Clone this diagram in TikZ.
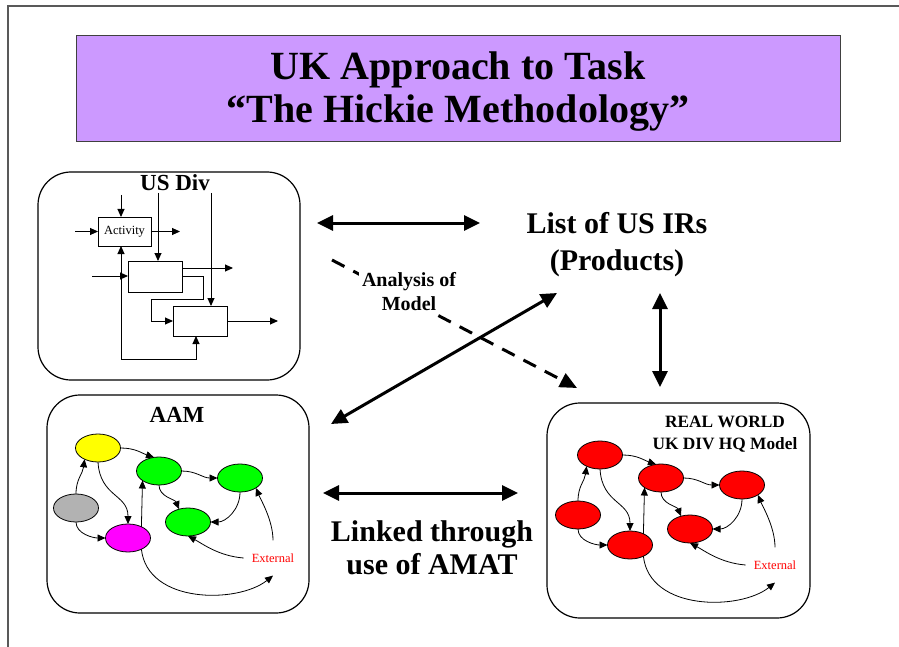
\documentclass[tikz,border=0pt]{standalone}
\usepackage{fontspec}
\setmainfont{Liberation Serif}
\usetikzlibrary{arrows.meta,shapes.geometric}

\definecolor{titlefill}{HTML}{CC99FF}
\definecolor{nodegray}{HTML}{B2B2B2}
\definecolor{nodeyellow}{HTML}{FFFF00}
\definecolor{nodegreen}{HTML}{00FF00}
\definecolor{nodemagenta}{HTML}{FF00FF}
\definecolor{nodered}{HTML}{FF0000}

\tikzset{
  frameline/.style={draw=black!65, line width=1.5pt},
  titlebox/.style={draw=black!75, fill=titlefill, line width=1pt, inner sep=0pt, outer sep=0pt},
  titletext/.style={font=\bfseries\fontsize{40}{43}\selectfont, inner sep=0pt, anchor=base},
  panel/.style={draw=black, line width=1.2pt, rounded corners=33pt, inner sep=0pt, outer sep=0pt},
  fbox/.style={draw=black, line width=0.9pt, inner sep=0pt, outer sep=0pt, font=\fontsize{12.5}{14}\selectfont},
  flow/.style={draw=black, line width=0.9pt, -{Triangle[length=8pt,width=7pt]}},
  bubble/.style={ellipse, draw=black, line width=0.8pt, minimum width=45pt, minimum height=28pt, inner sep=0pt, outer sep=0pt},
  link/.style={draw=black, line width=0.8pt, -{Triangle[length=8pt,width=7pt]}},
  exttext/.style={text=nodered, font=\fontsize{12.5}{14}\selectfont, inner xsep=8pt, inner ysep=13pt},
  bigarrow/.style={draw=black, line width=3pt, {Triangle[length=16pt,width=15pt]}-{Triangle[length=16pt,width=15pt]}},
  dasharrow/.style={draw=black, line width=3pt, dash pattern=on 14pt off 10pt, -{Triangle[length=17pt,width=15pt]}},
  headtext/.style={font=\bfseries\fontsize{23}{27}\selectfont, inner sep=0pt},
  bigtext/.style={font=\bfseries\fontsize{30}{35}\selectfont, align=center, inner sep=0pt},
}

% A small process network: six ellipses, an external source and the links between them
\newcommand\netmodel[8]{%
  \begin{scope}[shift={#2}]
    \node[bubble, fill=#3] (#1t) at (0,0) {};
    \node[bubble, fill=#4] (#1m) at (61,23) {};
    \node[bubble, fill=#5] (#1r) at (142,30) {};
    \node[bubble, fill=#6] (#1l) at (90,74) {};
    \node[bubble, fill=#7] (#1w) at (-22,60) {};
    \node[bubble, fill=#8] (#1b) at (30,90) {};
    \node[exttext] (#1x) at (175,110) {External};
    \draw[link] (#1t.east) .. controls +(15,0) and +(-12,-4) .. (#1m.110);
    \draw[link] (#1m.east) .. controls +(15,0) and +(-15,0) .. (#1r.west);
    \draw[link] (#1m.south) .. controls +(0,12) and +(-4,-10) .. (#1l.125);
    \draw[link] (#1r.south) .. controls +(0,18) and +(15,0) .. (#1l.east);
    \draw[link] (#1t.south) .. controls +(2,35) and +(0,-30) .. (#1b.north);
    \draw[link] (#1w.north) .. controls +(0,-15) and +(-2,15) .. (#1t.220);
    \draw[link] (#1w.south) .. controls +(0,12) and +(-12,0) .. (#1b.west);
    \draw[link] (#1b.40) -- (#1m.210);
    \draw[link] (#1x.west) .. controls +(-25,-2) and +(15,8) .. (#1l.south);
    \draw[link] (#1x.north) .. controls +(0,-20) and +(5,12) .. (#1r.-32);
    \draw[link] (#1b.-40) .. controls +(6,55) and +(-35,28) .. (#1x.south);
  \end{scope}}

\begin{document}
\begin{tikzpicture}[x=1pt, y=-1pt]
  \useasboundingbox (0,0) rectangle (899,647);

  % page frame
  \coordinate (fl) at (8,647);
  \coordinate (fc) at (8,6);
  \coordinate (fr) at (899,6);
  \draw[frameline] (fl) -- (fc) -- (fr);

  % title
  \node[titlebox, minimum width=764pt, minimum height=106pt] (title) at (458,89) {};
  \node[titletext] (titleone) at (458,80) {UK Approach to Task};
  \node[titletext] (titletwo) at (458,123) {“The Hickie Methodology”};

  % ---------- US Div panel ----------
  \node[panel, minimum width=262pt, minimum height=208pt] (usdiv) at (169,276) {};
  \node[headtext] (usdivlabel) at (175,183) {US Div};

  \node[fbox, minimum width=53pt, minimum height=29pt] (act) at (124.5,231.5) {Activity};
  \node[fbox, minimum width=54pt, minimum height=31pt] (bx2) at (155,276.5) {};
  \node[fbox, minimum width=54pt, minimum height=30pt] (bx3) at (200,321) {};

  \coordinate (ain) at (121,195);
  \coordinate (aleft) at (75,231.5);
  \coordinate (aout) at (180,231.5);
  \coordinate (ctl2) at (158,193);
  \coordinate (bleft) at (92,276);
  \coordinate (bout) at (233,268);
  \coordinate (bk1) at (203,276);
  \coordinate (bk2) at (203,299);
  \coordinate (bk3) at (151,299);
  \coordinate (bk4) at (151,321);
  \coordinate (ctl3) at (211,193);
  \coordinate (cout) at (278,321);
  \coordinate (fb1) at (121,359);
  \coordinate (fb2) at (196,359);

  \draw[flow] (ain) -- (ain |- act.north);
  \draw[flow] (aleft) -- (act.west);
  \draw[flow] (act.east) -- (aout);
  \draw[flow] (ctl2) -- (ctl2 |- bx2.north);
  \draw[flow] (bleft) -- (bleft -| bx2.west);
  \draw[flow] (bout -| bx2.east) -- (bout);
  \draw[flow] (bk1 -| bx2.east) -- (bk1) -- (bk2) -- (bk3) -- (bk4) -- (bk4 -| bx3.west);
  \draw[flow] (ctl3) -- (ctl3 |- bx3.north);
  \draw[flow] (bx3.east |- cout) -- (cout);
  \draw[flow] (fb1) -- (fb1 |- act.south);
  \draw[flow] (fb1) -- (fb2) -- (fb2 |- bx3.south);

  % ---------- AAM panel ----------
  \node[panel, minimum width=262pt, minimum height=218pt] (aam) at (178,504) {};
  \node[headtext] (aamlabel) at (177,415) {AAM};
  \netmodel{a}{(98,448)}{nodeyellow}{nodegreen}{nodegreen}{nodegreen}{nodegray}{nodemagenta}

  % ---------- real world panel ----------
  \node[panel, minimum width=263pt, minimum height=215pt] (rw) at (678.5,510.5) {};
  \node[font=\bfseries\fontsize{17.3}{22}\selectfont, align=center, inner sep=0pt] (rwlabel) at (725,434)
    {REAL WORLD\\UK DIV HQ Model};
  \netmodel{r}{(600,455)}{nodered}{nodered}{nodered}{nodered}{nodered}{nodered}

  % ---------- centre: product list and links ----------
  \node[bigtext, font=\bfseries\fontsize{30}{37}\selectfont] (irs) at (617,245) {List of US IRs\\(Products)};
  \node[bigtext, font=\bfseries\fontsize{30}{32.5}\selectfont] (amat) at (432,548) {Linked through\\use of AMAT};

  \coordinate (t1) at (317,223);
  \coordinate (t2) at (480,223);
  \coordinate (d1) at (332,260);
  \coordinate (d2) at (577,388);
  \coordinate (g1) at (557,293);
  \coordinate (g2) at (331,424);
  \coordinate (v1) at (660,293);
  \coordinate (v2) at (660,387);
  \coordinate (h1) at (323,493);
  \coordinate (h2) at (518,493);

  \draw[bigarrow] (t1) -- (t2);
  \draw[dasharrow] (d1) -- (d2);
  \node[font=\bfseries\fontsize{20}{24}\selectfont, align=center, fill=white, inner sep=3pt] (analysis) at (409,292)
    {Analysis of\\Model};
  \draw[bigarrow] (g1) -- (g2);
  \draw[bigarrow] (v1) -- (v2);
  \draw[bigarrow] (h1) -- (h2);
\end{tikzpicture}
\end{document}
